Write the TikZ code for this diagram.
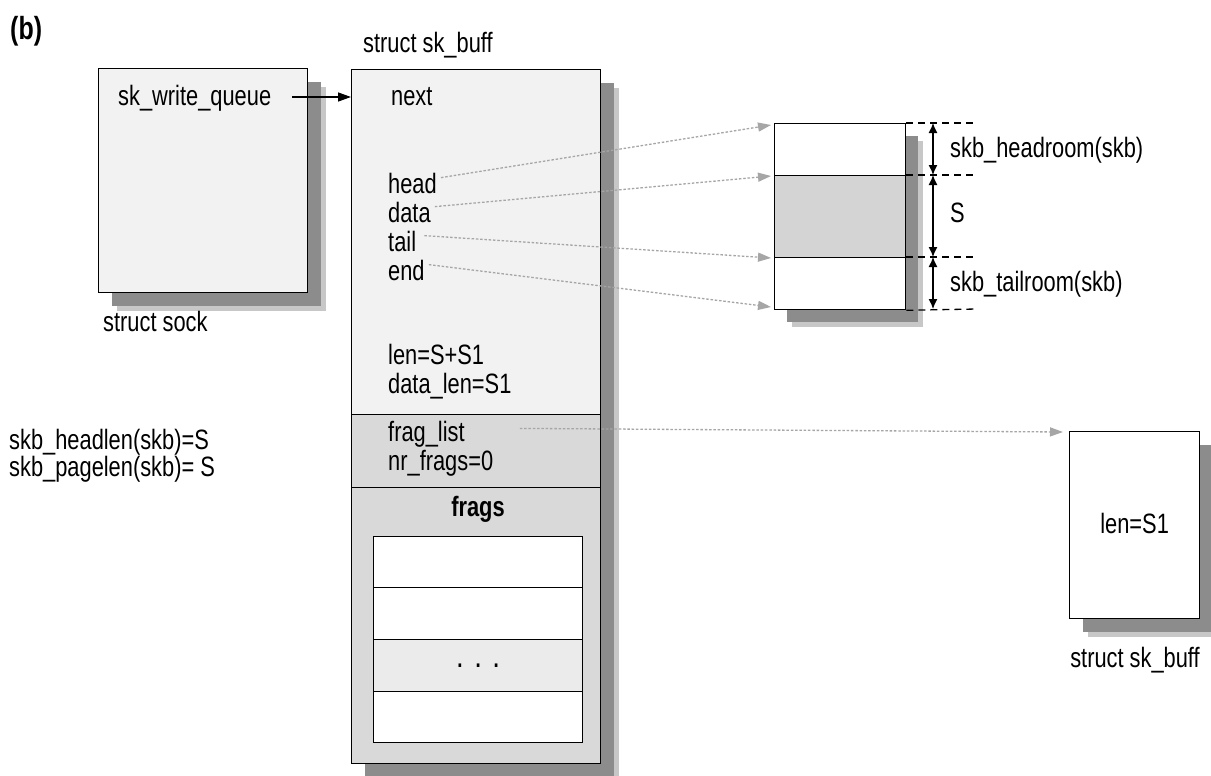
\documentclass[tikz,border=0pt]{standalone}
\usepackage{fontspec}
\setmainfont{Liberation Sans}[FakeStretch=0.78]
\usetikzlibrary{arrows.meta,shadows}
\begin{document}
\begin{tikzpicture}[x=1pt,y=-1pt,
  txt/.style={font=\fontsize{28}{30}\selectfont, inner sep=0pt, anchor=mid west},
  ctxt/.style={font=\fontsize{28}{30}\selectfont, inner sep=0pt, anchor=mid},
  box/.style={draw=black, line width=1.3pt, inner sep=0pt, anchor=north west},
  shad/.style={
    drop shadow={shadow xshift=18pt, shadow yshift=-18pt, fill=black!22, opacity=1},
    drop shadow={shadow xshift=13pt, shadow yshift=-13pt, fill=black!45, opacity=1}},
  ptr/.style={draw=black!35, dash pattern=on 2.5pt off 1.8pt, line width=1.3pt,
    -{Triangle[length=13pt,width=9pt,fill=black!35]}},
  solidptr/.style={draw=black, line width=1.3pt, -{Triangle[length=13pt,width=9pt]}},
  dim/.style={line width=1.3pt, {Latex[length=10pt,width=9pt]}-{Latex[length=10pt,width=9pt]}},
  guide/.style={dash pattern=on 7pt off 5pt, line width=1.3pt},
]
\useasboundingbox[fill=white] (0,0) rectangle (1211,776);

% title
\node[txt, anchor=west, font=\fontsize{32}{34}\selectfont\bfseries] (lbl) at (10,31) {(b)};

% struct sock
\node[box, shad, fill=black!5, minimum width=209pt, minimum height=224pt] (sock) at (98,68) {};
\node[txt] (swq) at (118,103) {sk\_write\_queue};
\node[txt] (socklbl) at (103,329) {struct sock};

% main sk_buff
\node[txt] (skblbl) at (363,50) {struct sk\_buff};
\node[box, shad, fill=black!5, minimum width=249pt, minimum height=694pt] (skb) at (351,69) {};
\node[box, fill=black!15, minimum width=249pt, minimum height=73pt] (fraglistsec) at (351,414) {};
\node[box, fill=black!15, minimum width=249pt, minimum height=276pt] (fragsec) at (351,487) {};

\node[txt] (next) at (391,103) {next};
\node[txt] (head) at (388,191) {head};
\node[txt] (data) at (388,220) {data};
\node[txt] (tail) at (388,249) {tail};
\node[txt] (end) at (388,278) {end};
\node[txt] (len) at (388,362) {len=S+S1};
\node[txt] (dlen) at (388,391) {data\_len=S1};
\node[txt] (fraglist) at (388,439) {frag\_list};
\node[txt] (nrfrags) at (388,468) {nr\_frags=0};
\node[ctxt, font=\fontsize{28}{30}\selectfont\bfseries] (frags) at (478,514) {frags};

\node[box, fill=white, minimum width=209pt, minimum height=51pt] (f1) at (373,536) {};
\node[box, fill=white, minimum width=209pt, minimum height=52pt] (f2) at (373,587) {};
\node[box, fill=black!8, minimum width=209pt, minimum height=52pt,
      font=\fontsize{24}{26}\selectfont\bfseries] (f3) at (373,639) {.\hspace{13pt}.\hspace{13pt}.};
\node[box, fill=white, minimum width=209pt, minimum height=51pt] (f4) at (373,691) {};

% left labels
\node[txt, anchor=west, align=left, font=\fontsize{28}{24.5}\selectfont] (lens) at (9,456)
  {skb\_headlen(skb)=S\\skb\_pagelen(skb)= S};

% data buffer
\fill[black!22] (792,141) rectangle (923,327);
\fill[black!45] (787,136) rectangle (918,322);
\node[box, fill=white, minimum width=131pt, minimum height=52pt] (hr) at (774,123) {};
\node[box, fill=black!17, minimum width=131pt, minimum height=82pt] (dat) at (774,175) {};
\node[box, fill=white, minimum width=131pt, minimum height=52pt] (tr) at (774,257) {};

\coordinate (g1) at (977,123);
\coordinate (g2) at (977,175);
\coordinate (g3) at (977,257);
\coordinate (g4) at (977,309);
\draw[guide] (hr.north east) -- (g1);
\draw[guide] (dat.north east) -- (g2);
\draw[guide] (tr.north east) -- (g3);
\draw[guide] (tr.south east) -- (g4);

\coordinate (d1) at (933,123);
\coordinate (d2) at (933,175);
\coordinate (d3) at (933,257);
\coordinate (d4) at (933,309);
\draw[dim] (d1) -- (d2);
\draw[dim] (d2) -- (d3);
\draw[dim] (d3) -- (d4);
\node[txt] (hroom) at (950,155) {skb\_headroom(skb)};
\node[txt] (slbl) at (950,220) {S};
\node[txt] (troom) at (950,289) {skb\_tailroom(skb)};

% second sk_buff
\node[box, shad, fill=white, minimum width=130pt, minimum height=187pt] (skb2) at (1069,431) {};
\node[ctxt] (len2) at ([yshift=-6pt]skb2.center) {len=S1};
\node[ctxt] (skb2lbl) at (1135,665) {struct sk\_buff};

% pointers
\draw[solidptr] (292,97) -- (skb.west |- 0,97);
\coordinate (t1) at (771,125);
\coordinate (t2) at (771,176);
\coordinate (t3) at (771,258);
\coordinate (t4) at (771,307);
\coordinate (t5) at (1063,432);
\draw[ptr] ([xshift=4pt,yshift=6pt]head.east) -- (t1);
\draw[ptr] ([xshift=4pt,yshift=6pt]data.east) -- (t2);
\draw[ptr] ([xshift=8pt,yshift=6pt]tail.east) -- (t3);
\draw[ptr] ([xshift=4pt,yshift=6pt]end.east) -- (t4);
\draw[ptr] ([xshift=55pt,yshift=6pt]fraglist.east) -- (t5);
\end{tikzpicture}
\end{document}
